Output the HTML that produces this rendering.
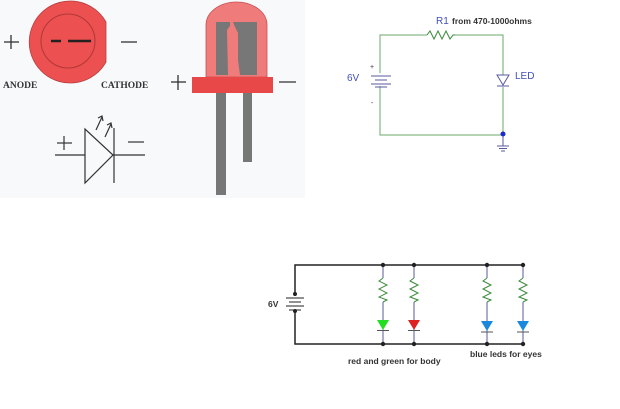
<!DOCTYPE html>
<html><head><style>
body{margin:0;background:#fff;}
svg{display:block;font-family:"Liberation Sans",sans-serif;}
</style></head><body>
<svg width="620" height="409" viewBox="0 0 620 409">
<rect x="0" y="0" width="305" height="198" fill="#f7f9fb"/>
<!-- top view LED -->
<path d="M106,22 A41,41 0 1 0 106,62 Z" fill="#ec5050" stroke="#b84040" stroke-width="0.8"/>
<circle cx="68" cy="41" r="27" fill="none" stroke="#b03838" stroke-width="1"/>
<line x1="51" y1="41" x2="61" y2="41" stroke="#222" stroke-width="2.5"/>
<line x1="68" y1="41" x2="91" y2="41" stroke="#222" stroke-width="2.5"/>
<g stroke="#333" stroke-width="1.3">
<line x1="4" y1="42" x2="19" y2="42"/><line x1="11" y1="35" x2="11" y2="49"/>
<line x1="121" y1="42" x2="137" y2="42"/>
<line x1="171" y1="82" x2="186" y2="82"/><line x1="178" y1="75" x2="178" y2="90"/>
<line x1="279" y1="82" x2="296" y2="82"/>
</g>
<text x="3" y="88" font-family="Liberation Serif,serif" font-weight="bold" font-size="9.5" fill="#333">ANODE</text>
<text x="101" y="88" font-family="Liberation Serif,serif" font-weight="bold" font-size="9.5" fill="#333">CATHODE</text>
<!-- diode symbol -->
<g stroke="#333" stroke-width="1.2" fill="none">
<path d="M85,129 L85,183 L113,155 Z"/>
<line x1="114" y1="128" x2="114" y2="183"/>
<line x1="55" y1="155" x2="85" y2="155"/><line x1="113" y1="155" x2="145" y2="155"/>
<line x1="57" y1="143" x2="72" y2="143"/><line x1="64" y1="136" x2="64" y2="150"/>
<line x1="128" y1="142" x2="144" y2="142"/>
<line x1="96" y1="130" x2="102" y2="117"/><path d="M98,118 L102,116 L103,121"/>
<line x1="105" y1="137" x2="111" y2="124"/><path d="M107,125 L111,123 L112,128"/>
</g>
<!-- side view LED -->
<path d="M206,77 L206,25 A30.5,23 0 0 1 267,25 L267,77 Z" fill="#f07b7b" stroke="#c85050" stroke-width="0.8"/>
<path d="M216,22 L230,22 L230,26 L227,30 L228,75 L216,75 Z" fill="#777"/>
<path d="M233,22 L257,22 L257,75 L240,75 L238,60 L238,33 L235,27 Z" fill="#777"/>
<rect x="192" y="77" width="81" height="16" fill="#e94848"/>
<rect x="216" y="93" width="10" height="102" fill="#777"/>
<rect x="243" y="93" width="9" height="69" fill="#777"/>
<!-- circuit 1 -->
<g stroke="#6aa86a" stroke-width="1" fill="none">
<polyline points="427,35 380,35 380,73"/>
<polyline points="380,86 380,135 503,135 503,87"/>
<polyline points="455,35 503,35 503,75"/>
<polyline points="427,35 430,31 434,39 438,31 442,39 446,31 450,39 453,35 455,35" stroke="#3a8a3a"/>
</g>
<g stroke="#5a5aa0" stroke-width="1" fill="none">
<line x1="371" y1="76" x2="391" y2="76"/><line x1="375" y1="80" x2="387" y2="80"/>
<line x1="371" y1="84" x2="391" y2="84"/><line x1="375" y1="87" x2="387" y2="87"/>
<path d="M497,75 L509,75 L503,85 Z"/><line x1="497" y1="86" x2="509" y2="86"/>
<line x1="503" y1="135" x2="503" y2="146"/>
<line x1="497" y1="146" x2="509" y2="146"/><line x1="499" y1="148.5" x2="507" y2="148.5"/><line x1="501" y1="151" x2="505" y2="151"/>
</g>
<circle cx="503" cy="134" r="2.5" fill="#1a2ad0"/>
<text x="436" y="24" font-size="10" fill="#4050b8">R1</text>
<text x="452" y="24" font-size="8.5" font-weight="bold" fill="#333">from 470-1000ohms</text>
<text x="347" y="81" font-size="10" fill="#4050b8">6V</text>
<text x="515" y="79" font-size="10" fill="#4050b8">LED</text>
<text x="370" y="69" font-size="7" fill="#333">+</text>
<text x="371" y="105" font-size="7" fill="#333">-</text>
<!-- circuit 2 -->
<g stroke="#222" stroke-width="1.5" fill="none">
<polyline points="295,296 295,265 523,265"/>
<polyline points="295,310 295,344 523,344"/>
<line x1="286" y1="298" x2="304" y2="298" stroke-width="1"/>
<line x1="289" y1="302" x2="301" y2="302" stroke-width="1"/>
<line x1="286" y1="306" x2="304" y2="306" stroke-width="1"/>
<line x1="289" y1="310" x2="301" y2="310" stroke-width="1"/>
</g>
<circle cx="295" cy="294" r="2" fill="#222"/><circle cx="295" cy="311" r="2" fill="#222"/>
<g stroke-width="1" fill="none">
<g stroke="#5a5a9a">
<line x1="383" y1="265" x2="383" y2="278"/><line x1="383" y1="302" x2="383" y2="344"/>
<line x1="414" y1="265" x2="414" y2="278"/><line x1="414" y1="302" x2="414" y2="344"/>
<line x1="487" y1="265" x2="487" y2="278"/><line x1="487" y1="302" x2="487" y2="344"/>
<line x1="523" y1="265" x2="523" y2="278"/><line x1="523" y1="302" x2="523" y2="344"/>
</g>
<g stroke="#3a8a3a">
<polyline points="383,278 379,281 387,285 379,289 387,293 379,297 387,300 383,302"/>
<polyline points="414,278 410,281 418,285 410,289 418,293 410,297 418,300 414,302"/>
<polyline points="487,278 483,281 491,285 483,289 491,293 483,297 491,300 487,302"/>
<polyline points="523,278 519,281 527,285 519,289 527,293 519,297 527,300 523,302"/>
</g>
</g>
<path d="M377,320 L389,320 L383,330 Z" fill="#22dd22"/>
<path d="M408,320 L420,320 L414,330 Z" fill="#dd2020"/>
<path d="M481,321 L493,321 L487,331 Z" fill="#1a88dd"/>
<path d="M517,321 L529,321 L523,331 Z" fill="#1a88dd"/>
<g stroke="#555" stroke-width="1">
<line x1="377" y1="330.5" x2="389" y2="330.5"/><line x1="408" y1="330.5" x2="420" y2="330.5"/>
<line x1="481" y1="332" x2="493" y2="332"/><line x1="517" y1="332" x2="529" y2="332"/>
</g>
<g fill="#222">
<circle cx="383" cy="265" r="2.2"/><circle cx="414" cy="265" r="2.2"/><circle cx="487" cy="265" r="2.2"/><circle cx="523" cy="265" r="2.2"/>
<circle cx="383" cy="344" r="2.2"/><circle cx="414" cy="344" r="2.2"/><circle cx="487" cy="344" r="2.2"/><circle cx="523" cy="344" r="2.2"/>
</g>
<text x="268" y="307" font-size="8.5" font-weight="bold" fill="#333">6V</text>
<text x="348" y="364" font-size="8.5" font-weight="bold" fill="#333">red and green for body</text>
<text x="470" y="357" font-size="8.5" font-weight="bold" fill="#333">blue leds for eyes</text>
</svg>
</body></html>
